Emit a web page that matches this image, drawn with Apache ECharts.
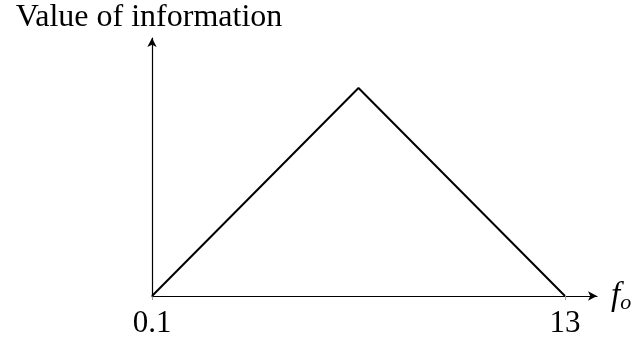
<!DOCTYPE html>
<html>
<head>
<meta charset="utf-8">
<script src="https://cdn.jsdelivr.net/npm/echarts@6/dist/echarts.min.js"></script>
<style>
  html, body { margin: 0; padding: 0; background: #fff; }
  #chart { width: 636px; height: 341px; }
</style>
</head>
<body>
<div id="chart"></div>
<script>
// value of information vs f_o: rises linearly to a peak, then falls
const xValues = [0.1, 6.55, 13];
const yValues = [0, 1, 0];
const tickValues = [0.1, 13];

const serif = "'Liberation Serif', 'DejaVu Serif', serif";

const chart = echarts.init(document.getElementById("chart"));

chart.setOption({
  animation: false,
  grid: { left: 152, right: 39, top: 38, bottom: 45 },
  xAxis: {
    type: "value",
    min: 0.1,
    max: 14.0,
    name: "{f|f}{o|o}",
    nameLocation: "end",
    nameGap: 14,
    nameTextStyle: {
      rich: {
        f: { fontFamily: serif, fontStyle: "italic", fontSize: 33, color: "#000" },
        o: { fontFamily: serif, fontStyle: "italic", fontSize: 22, color: "#000", padding: [14, 0, 0, 0] }
      }
    },
    axisLine: { show: true, lineStyle: { color: "#000", width: 1.2 }, symbol: ["none", "arrow"], symbolSize: [7, 9] },
    axisTick: { show: true, customValues: tickValues, length: 4, inside: false, lineStyle: { color: "#999" } },
    axisLabel: {
      customValues: tickValues,
      formatter: v => String(v),
      fontFamily: serif, fontSize: 31, color: "#000", margin: 12
    },
    splitLine: { show: false }
  },
  yAxis: {
    type: "value",
    min: 0,
    max: 1.24,
    name: "Value of information",
    nameLocation: "end",
    nameGap: 4,
    nameTextStyle: { fontFamily: serif, fontSize: 32, color: "#000", align: "center", verticalAlign: "bottom", padding: [0, 6, 0, 0] },
    axisLine: { show: true, lineStyle: { color: "#000", width: 1.2 }, symbol: ["none", "arrow"], symbolSize: [7, 9] },
    axisTick: { show: false },
    axisLabel: { show: false },
    splitLine: { show: false }
  },
  series: [{
    type: "line",
    data: xValues.map((x, i) => [x, yValues[i]]),
    showSymbol: false,
    lineStyle: { color: "#000", width: 2 }
  }]
});
</script>
</body>
</html>
